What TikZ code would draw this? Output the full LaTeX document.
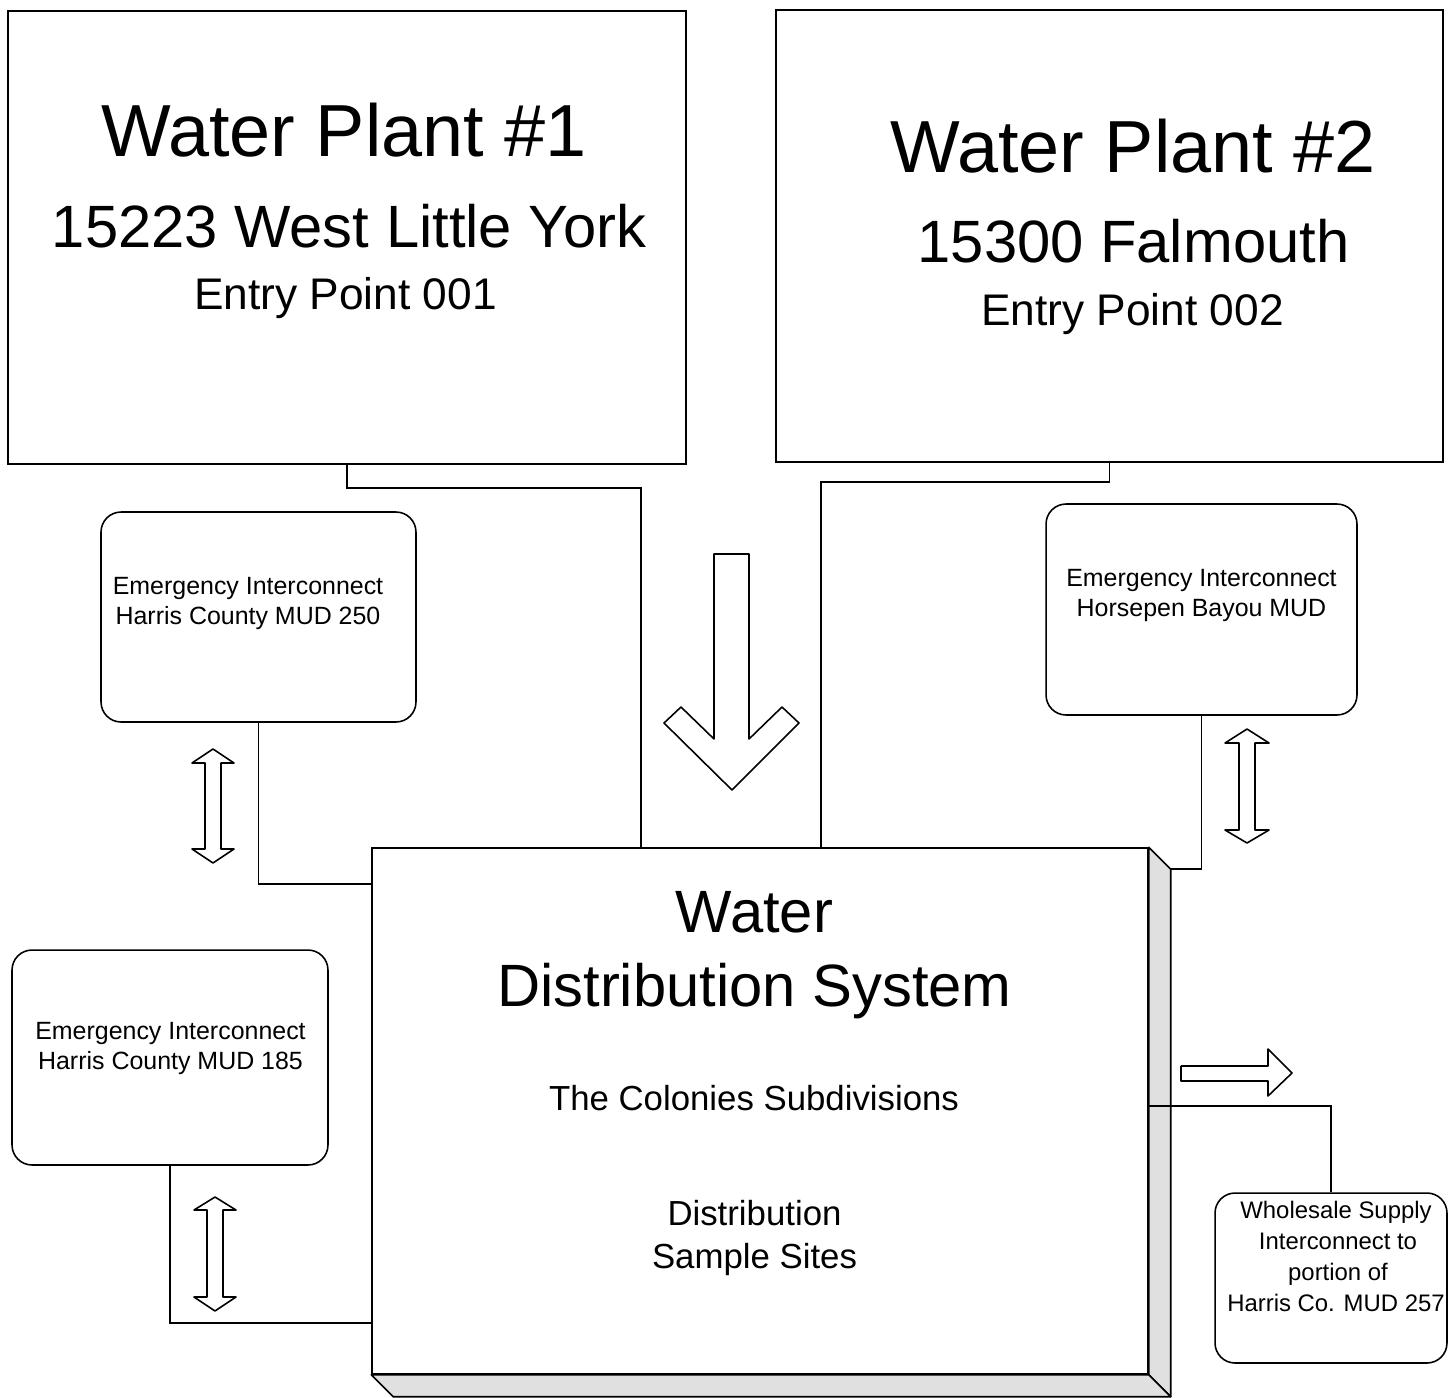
\documentclass[tikz,border=0pt]{standalone}
\usepackage{fontspec}
\setmainfont{Liberation Sans}
\usetikzlibrary{positioning, calc}

\begin{document}
\begin{tikzpicture}[
    x=0.02cm, y=-0.02cm,
    plantbox/.style={draw, line width=0.9pt, inner sep=0pt},
    mudbox/.style={draw, rounded corners=0.4cm, line width=0.9pt, inner sep=0pt},
    sideface/.style={draw, line width=0.9pt, fill=black!12, line join=round},
    pipe/.style={line width=0.9pt},
    blockarrow/.style={draw, line width=0.9pt, fill=white, line join=round},
    lbl/.style={anchor=base, inner sep=0pt},
    titletext/.style={lbl, font=\fontsize{42}{48}\selectfont},
    streettext/.style={lbl, font=\fontsize{34}{40}\selectfont},
    entrytext/.style={lbl, font=\fontsize{25.2}{30}\selectfont},
    subtext/.style={lbl, font=\fontsize{19.8}{24}\selectfont},
    mudtext/.style={lbl, font=\fontsize{14.2}{17}\selectfont},
    saletext/.style={lbl, font=\fontsize{13.6}{16}\selectfont},
]
    \useasboundingbox (0,0) rectangle (1456,1397);

    % Plants
    \node[plantbox, minimum width=13.56cm, minimum height=9.06cm] (plantA) at (347,237.5) {};
    \node[plantbox, minimum width=13.34cm, minimum height=9.04cm] (plantB) at (1109.5,236) {};

    \node[titletext] (pA1) at (344,156) {Water Plant \#1};
    \node[streettext] (pA2) at (349,247) {15223 West Little York};
    \node[entrytext] (pA3) at (345.5,309) {Entry Point 001};

    \node[titletext] (pB1) at (1133,172) {Water Plant \#2};
    \node[streettext] (pB2) at (1133.5,262) {15300 Falmouth};
    \node[entrytext] (pB3) at (1132.5,325) {Entry Point 002};

    % Distribution system (box with depth)
    \node[plantbox, minimum width=15.52cm, minimum height=10.52cm] (dist) at (760,1111) {};
    \draw[sideface] (dist.north east) -- ++(22,22) coordinate (sideNE)
        -- ([shift={(22,22)}]dist.south east) -- (dist.south east) -- cycle;
    \draw[sideface] (dist.south west) -- (dist.south east)
        -- ([shift={(22,22)}]dist.south east) -- ([shift={(22,22)}]dist.south west) -- cycle;

    \node[streettext] (d1) at (754.5,932) {Water};
    \node[streettext] (d2) at (754.5,1006) {Distribution System};
    \node[subtext] (d3) at (754,1110) {The Colonies Subdivisions};
    \node[subtext] (d4) at (754.5,1225) {Distribution};
    \node[subtext] (d5) at (754.5,1268) {Sample Sites};

    % Interconnects
    \node[mudbox, minimum width=6.3cm, minimum height=4.2cm] (mudA) at (258.5,617) {};
    \node[mudbox, minimum width=6.22cm, minimum height=4.22cm] (mudB) at (1201.5,609.5) {};
    \node[mudbox, minimum width=6.32cm, minimum height=4.3cm] (mudC) at (170,1057.5) {};
    \node[mudbox, minimum width=4.64cm, minimum height=3.4cm] (sale) at (1331,1278) {};

    \node[mudtext] (mA1) at (248,594) {Emergency Interconnect};
    \node[mudtext] (mA2) at (248,624) {Harris County MUD 250};
    \node[mudtext] (mB1) at (1201.5,586) {Emergency Interconnect};
    \node[mudtext] (mB2) at (1201.5,616) {Horsepen Bayou MUD};
    \node[mudtext] (mC1) at (170.5,1039) {Emergency Interconnect};
    \node[mudtext] (mC2) at (170.5,1069) {Harris County MUD 185};

    \node[saletext] (s1) at (1336,1218) {Wholesale Supply};
    \node[saletext] (s2) at (1338,1249) {Interconnect to};
    \node[saletext] (s3) at (1338,1280) {portion of};
    \node[saletext] (s4) at (1336,1311) {Harris Co. MUD 257};

    % Pipes
    \coordinate (jA) at (641,488);
    \coordinate (jB) at (821,482);
    \draw[pipe] (plantA.south) |- (jA) -- (jA |- dist.north);
    \draw[pipe] (plantB.south) |- (jB) -- (jB |- dist.north);
    \draw[pipe] (mudA.south) |- ([yshift=-0.74cm]dist.north west);
    \draw[pipe] (mudC.south) |- ([yshift=1.04cm]dist.south west);
    \draw[pipe] (mudB.south) |- (sideNE);
    \draw[pipe] ([yshift=0.1cm]dist.east) -| (sale.north);

    % Flow arrows
    \draw[blockarrow] (714,554) -- (714,739) -- (681,707) -- (664,723) -- (732,790)
        -- (799,723) -- (782,707) -- (749,739) -- (749,554) -- cycle;
    \draw[blockarrow] (213,749) -- (234,763) -- (221,763) -- (221,849) -- (234,849) -- (213,863)
        -- (192,849) -- (205,849) -- (205,763) -- (192,763) -- cycle;
    \draw[blockarrow] (1247,729) -- (1269,743) -- (1255,743) -- (1255,830) -- (1269,830) -- (1247,843)
        -- (1225,830) -- (1239,830) -- (1239,743) -- (1225,743) -- cycle;
    \draw[blockarrow] (215,1197) -- (236,1210) -- (223,1210) -- (223,1297) -- (236,1297) -- (215,1311)
        -- (194,1297) -- (207,1297) -- (207,1210) -- (194,1210) -- cycle;
    \draw[blockarrow] (1181,1066) -- (1268,1066) -- (1268,1049) -- (1292,1073) -- (1268,1096)
        -- (1268,1081) -- (1181,1081) -- cycle;
\end{tikzpicture}
\end{document}
